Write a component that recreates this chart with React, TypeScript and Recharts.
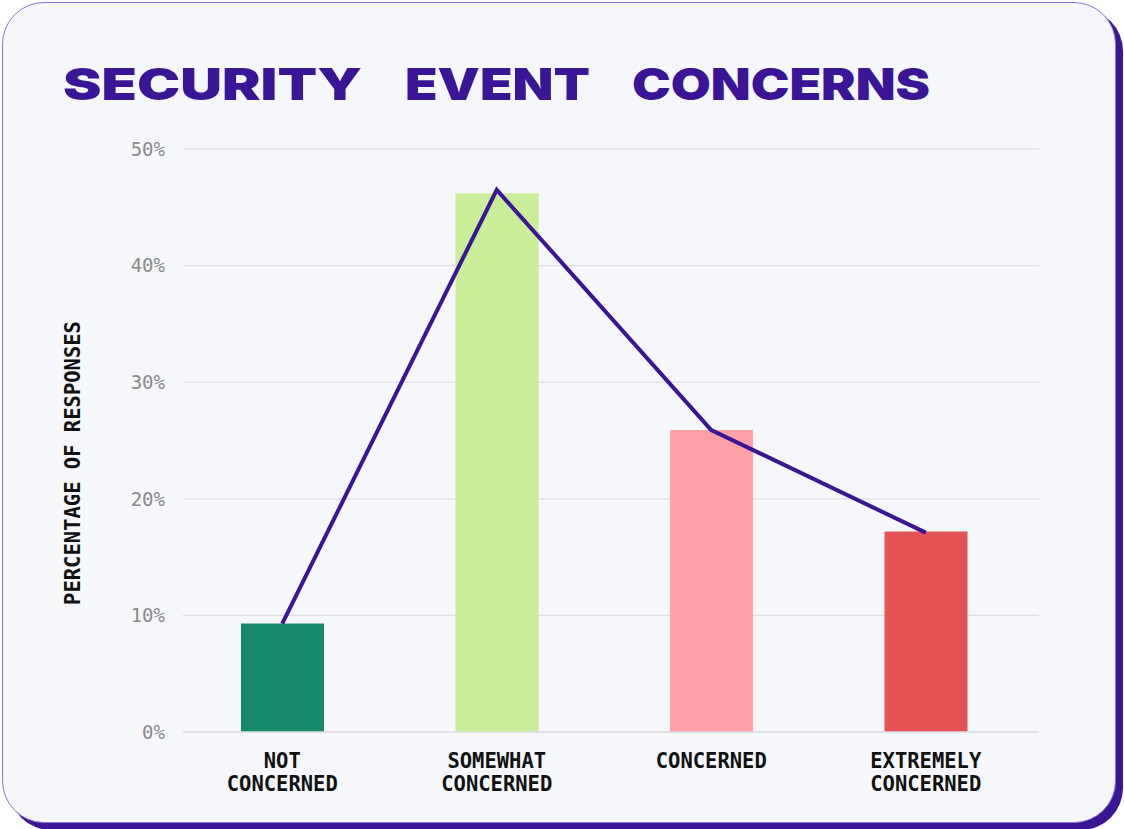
import React from 'react';
import { ComposedChart, Bar, Line, XAxis, YAxis, CartesianGrid, Cell } from 'recharts';

const categories = ['NOT CONCERNED', 'SOMEWHAT CONCERNED', 'CONCERNED', 'EXTREMELY CONCERNED'];
const tickLines = [['NOT', 'CONCERNED'], ['SOMEWHAT', 'CONCERNED'], ['CONCERNED'], ['EXTREMELY', 'CONCERNED']];
const barValues = [9.3, 46.2, 25.9, 17.2];
const lineValues = [9.3, 46.5, 25.9, 17.1];
const barColors = ['#17896b', '#c9ee98', '#ffa1a7', '#e45254'];
const yTicks = [0, 10, 20, 30, 40, 50];
const titleWords = ['SECURITY', 'EVENT', 'CONCERNS'];
const yLabel = 'PERCENTAGE OF RESPONSES';

const data = categories.map((c, i) => ({ name: c, bar: barValues[i], line: lineValues[i], idx: i }));

const PURPLE = '#3a1596';
const LABEL_FONT = '"DejaVu Sans Mono", "Liberation Mono", monospace';

const XTick = (props: any) => {
  const { x, y, index } = props;
  const lines = tickLines[index] || [];
  return (
    <text x={x} y={y} textAnchor="middle" fontFamily={LABEL_FONT} fontWeight={700} fontSize={20.5} fill="#111">
      {lines.map((l, i) => (
        <tspan key={i} x={x} y={y + 28 + i * 23}>{l}</tspan>
      ))}
    </text>
  );
};

const titlePos = [
  { x: 63, w: 299 },
  { x: 405, w: 185 },
  { x: 632, w: 298 },
];

export default function App() {
  return (
    <div style={{ position: 'absolute', left: 0, top: 0, width: 1124, height: 829, overflow: 'hidden', background: '#ffffff' }}>
      <div
        style={{
          position: 'absolute',
          left: 2,
          top: 2,
          width: 1112,
          height: 819,
          border: '1.5px solid #8c74d2',
          borderRadius: 42,
          background: '#f5f7fb',
          boxShadow: `7px 7px 0 ${PURPLE}`,
        }}
      />
      <div style={{ position: 'absolute', left: 0, top: 0 }}>
        <ComposedChart width={1124} height={829} data={data} margin={{ top: 149, right: 85, bottom: 67, left: 123 }}>
          <CartesianGrid vertical={false} stroke="#dedfe3" strokeWidth={1.3} />
          <XAxis
            dataKey="name"
            height={30}
            axisLine={{ stroke: '#dedfe3', strokeWidth: 1.3 }}
            tickLine={false}
            tick={<XTick />}
            interval={0}
            padding={{ left: -8, right: 6 }}
          />
          <YAxis
            width={60}
            domain={[0, 50]}
            ticks={yTicks}
            axisLine={false}
            tickLine={false}
            tickSize={0}
            tickMargin={18}
            tickFormatter={(v: number) => `${v}%`}
            tick={{ fontFamily: LABEL_FONT, fontSize: 19, fill: '#8a8a8a' }}
          />
          <Bar dataKey="bar" barSize={83} isAnimationActive={false}>
            {data.map((d, i) => (
              <Cell key={i} fill={barColors[i]} />
            ))}
          </Bar>
          <Line
            dataKey="line"
            stroke={PURPLE}
            strokeWidth={4}
            dot={false}
            activeDot={false}
            type="linear"
            isAnimationActive={false}
          />
        </ComposedChart>
      </div>
      <svg width={1124} height={829} style={{ position: 'absolute', left: 0, top: 0, pointerEvents: 'none' }}>
        {titleWords.map((w, i) => (
          <text
            key={w}
            x={titlePos[i].x}
            y={100}
            textLength={titlePos[i].w}
            lengthAdjust="spacingAndGlyphs"
            fontFamily='Inter, "DejaVu Sans", sans-serif'
            fontWeight={900}
            fontSize={44}
            fill={PURPLE}
          >
            {w}
          </text>
        ))}
        <text
          x={80}
          y={463}
          transform="rotate(-90 80 463)"
          textAnchor="middle"
          fontFamily={LABEL_FONT}
          fontWeight={700}
          fontSize={20.5}
          fill="#111"
        >
          {yLabel}
        </text>
      </svg>
    </div>
  );
}
